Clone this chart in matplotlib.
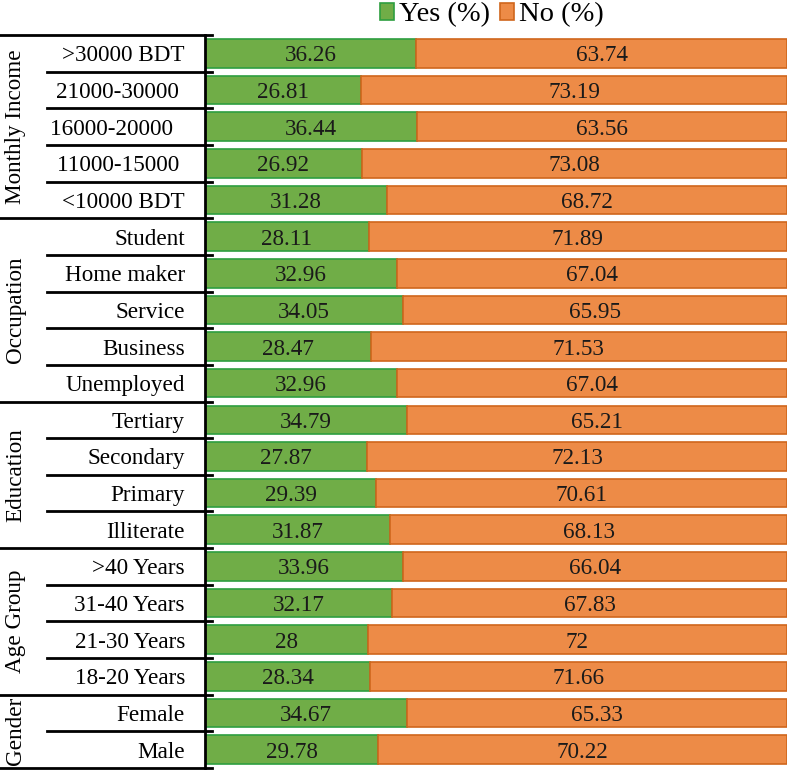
import numpy as np
import matplotlib
matplotlib.use('Agg')
import matplotlib.pyplot as plt
from matplotlib.lines import Line2D
from matplotlib.patches import Patch

plt.rcParams['font.family'] = ['Liberation Serif', 'DejaVu Serif']

# categories, top to bottom
groups      = ['Monthly Income', 'Occupation', 'Education', 'Age Group', 'Gender']
group_sizes = [5, 5, 4, 4, 2]
categories  = ['>30000 BDT', '21000-30000 ', '16000-20000  ', '11000-15000 ', '<10000 BDT',
               'Student', 'Home maker', 'Service', 'Business', 'Unemployed',
               'Tertiary', 'Secondary', 'Primary', 'Illiterate',
               '>40 Years', '31-40 Years', '21-30 Years', '18-20 Years',
               'Female', 'Male']
yes_pct = [36.26, 26.81, 36.44, 26.92, 31.28,
           28.11, 32.96, 34.05, 28.47, 32.96,
           34.79, 27.87, 29.39, 31.87,
           33.96, 32.17, 28, 28.34,
           34.67, 29.78]
no_pct  = [63.74, 73.19, 63.56, 73.08, 68.72,
           71.89, 67.04, 65.95, 71.53, 67.04,
           65.21, 72.13, 70.61, 68.13,
           66.04, 67.83, 72, 71.66,
           65.33, 70.22]

green, green_edge = '#70AD47', '#2E9E40'
orange, orange_edge = '#ED8B47', '#CF661C'

W, H = 787, 771
fig = plt.figure(figsize=(W / 100, H / 100), dpi=100)
ax_left, ax_right, ax_top, ax_bot = 205, 787, 35, 768
ax = fig.add_axes([ax_left / W, 1 - ax_bot / H, (ax_right - ax_left) / W, (ax_bot - ax_top) / H])

n = len(categories)
y = np.arange(n)
ax.barh(y, yes_pct, height=0.78, color=green, edgecolor=green_edge, linewidth=1.2, label='Yes (%)')
ax.barh(y, no_pct, left=yes_pct, height=0.78, color=orange, edgecolor=orange_edge, linewidth=1.2, label='No (%)')

fs = 16.7
for i in range(n):
    ax.text(yes_pct[i] / 2, i, '%g' % yes_pct[i], ha='center', va='center_baseline', fontsize=fs, color='#1a1a1a')
    ax.text(yes_pct[i] + no_pct[i] / 2, i, '%g' % no_pct[i], ha='center', va='center_baseline', fontsize=fs, color='#1a1a1a')

ax.set_xlim(0, 100)
ax.set_ylim(n - 0.5, -0.5)
ax.set_xticks([])
ax.set_yticks([])
for s in ['top', 'right', 'bottom']:
    ax.spines[s].set_visible(False)
ax.spines['left'].set_linewidth(2)

# left label table drawn in pixel coords
row_h = (ax_bot - ax_top) / n

def px(xp, yp):
    return xp / W, 1 - yp / H

def hline(x0, x1, yp):
    a, b = px(x0, yp)
    c, d = px(x1, yp)
    fig.add_artist(Line2D([a, c], [b, d], color='black', linewidth=2))

row = 0
hline(0, 212, ax_top)
for g, size in zip(groups, group_sizes):
    for k in range(size):
        yc = ax_top + (row + 0.5) * row_h
        fig.text(*px(185, yc), categories[row], ha='right', va='center_baseline', fontsize=fs)
        if k < size - 1:
            hline(47, 212, ax_top + (row + 1) * row_h)
        row += 1
    gc = ax_top + (row - size / 2) * row_h
    fig.text(*px(16, gc), g, ha='center', va='center', rotation=90, fontsize=fs)
    hline(0, 212, ax_top + row * row_h)

handles = [Patch(facecolor=green, edgecolor=green_edge, linewidth=1.2),
           Patch(facecolor=orange, edgecolor=orange_edge, linewidth=1.2)]
fig.legend(handles, ['Yes (%)', 'No (%)'], loc='center', bbox_to_anchor=(492 / W, 1 - 15 / H),
           ncol=2, frameon=False, fontsize=20.5, handlelength=0.5, handleheight=0.5,
           handletextpad=0.17, columnspacing=0.35)

fig.savefig('out.png', dpi=100)
